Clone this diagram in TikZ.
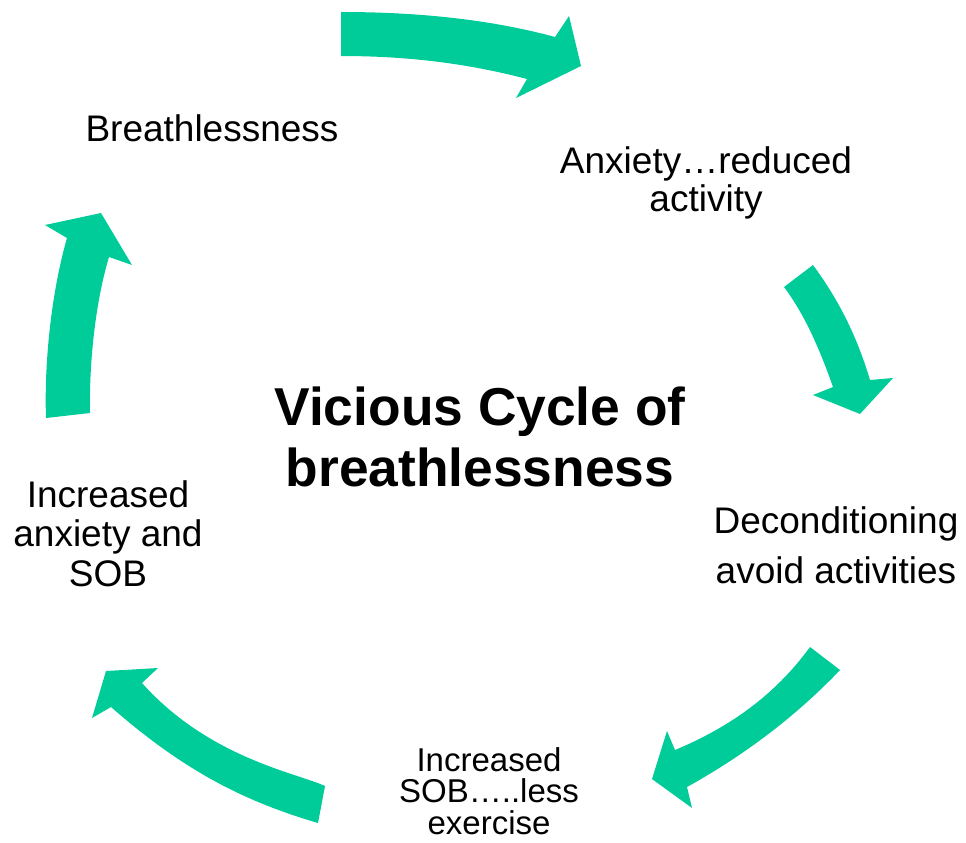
\documentclass[tikz,border=0pt]{standalone}
\usepackage{fontspec}
\setmainfont{Liberation Sans}
\definecolor{cyc}{RGB}{0,204,153}
\begin{document}
\begin{tikzpicture}[x=0.75pt,y=-0.75pt,
  arrowshape/.style={fill=cyc,draw=none},
  lbl/.style={inner sep=0pt,align=center,anchor=base}]
\useasboundingbox (0,0) rectangle (966,842);
% arrows
\fill[arrowshape] (341,12) .. controls (430,12) and (500,22) .. (555,37) -- (569,16) -- (581,66) -- (516,98) -- (527,79) .. controls (470,64) and (410,56) .. (341,56) -- cycle;
\fill[arrowshape] (813,265) .. controls (835,295) and (855,330) .. (870,380) -- (893,378) -- (860,414) -- (813,395) -- (833,387) .. controls (820,350) and (805,315) .. (784,287) -- cycle;
\fill[arrowshape] (840,670) .. controls (800,712) and (750,752) .. (687,787) -- (692,808) -- (652,779) -- (667,731) -- (675,750) .. controls (730,727) and (775,695) .. (810,647) -- cycle;
\fill[arrowshape] (318,823) .. controls (243,801) and (183,770) .. (111,707) -- (92,718) -- (106,671) -- (158,668) -- (142,683) .. controls (209,758) and (297,773) .. (325,786) -- cycle;
\fill[arrowshape] (46,418) .. controls (44,360) and (52,290) .. (67,238) -- (45,225) -- (101,213) -- (132,265) -- (109,257) .. controls (96,300) and (89,360) .. (90,413) -- cycle;
% labels (anchor=base is the baseline of the last line)
\node[lbl,font=\fontsize{27.75}{28.5}\selectfont] (breath) at (212,141) {Breathlessness};
\node[lbl,font=\fontsize{27.75}{28.5}\selectfont] (anx) at (706,211) {Anxiety…reduced\\activity};
\node[lbl,font=\fontsize{27.75}{37.5}\selectfont] (decond) at (836,583) {Deconditioning\\avoid activities};
\node[lbl,font=\fontsize{27.75}{29.6}\selectfont] (incanx) at (108,586) {Increased\\anxiety and\\SOB};
\node[lbl,font=\fontsize{24.75}{23.4}\selectfont] (incsob) at (489,834) {Increased\\SOB…..less\\exercise};
\node[lbl,font=\bfseries\fontsize{40}{45.75}\selectfont] (title) at (480,486) {Vicious Cycle of\\breathlessness};
\end{tikzpicture}
\end{document}
